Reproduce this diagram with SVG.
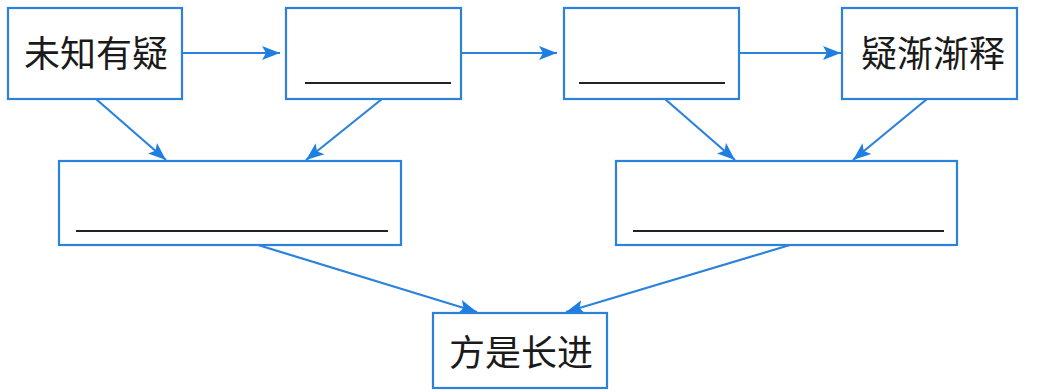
<svg xmlns="http://www.w3.org/2000/svg" width="1037" height="392" viewBox="0 0 1037 392">
<style>
.box{fill:#fff;stroke:#2b82dc;stroke-width:2.2}
.conn{stroke:#2b82dc;stroke-width:2.2;fill:none;marker-end:url(#ah)}
.blank{stroke:#222;stroke-width:2}
.lbl{font-family:"Noto Sans CJK SC","Noto Sans CJK TC",sans-serif;font-size:36px;fill:#1a1a1a;text-anchor:middle;dominant-baseline:central}
</style>
<defs>
<marker id="ah" markerUnits="userSpaceOnUse" markerWidth="20" markerHeight="16" refX="18" refY="8" orient="auto">
<path d="M0,1 L18,8 L0,15 L4,8 Z" fill="#1f7fe0"/>
</marker>
</defs>
<rect width="1037" height="392" fill="#fff"/>
<g id="connectors">
<line class="conn" x1="183" y1="53" x2="280" y2="53"/>
<line class="conn" x1="462" y1="53" x2="557" y2="53"/>
<line class="conn" x1="740" y1="53" x2="841" y2="53"/>
<line class="conn" x1="96" y1="99" x2="166" y2="160"/>
<line class="conn" x1="382" y1="99" x2="306" y2="160"/>
<line class="conn" x1="665" y1="99" x2="735" y2="160"/>
<line class="conn" x1="927" y1="99" x2="853" y2="160"/>
<line class="conn" x1="258" y1="245" x2="477" y2="312"/>
<line class="conn" x1="790" y1="245" x2="566" y2="312"/>
</g>
<g id="n1"><rect class="box" x="8" y="8" width="174" height="91"/><text class="lbl" x="96" y="51">未知有疑</text></g>
<g id="n2"><rect class="box" x="286" y="8" width="175" height="91"/><line class="blank" x1="305" y1="83" x2="451" y2="83"/></g>
<g id="n3"><rect class="box" x="564" y="8" width="175" height="91"/><line class="blank" x1="579" y1="83" x2="725" y2="83"/></g>
<g id="n4"><rect class="box" x="842" y="8" width="175" height="91"/><text class="lbl" x="933" y="51">疑渐渐释</text></g>
<g id="n5"><rect class="box" x="59" y="161" width="342" height="84"/><line class="blank" x1="76" y1="231" x2="388" y2="231"/></g>
<g id="n6"><rect class="box" x="616" y="161" width="341" height="84"/><line class="blank" x1="633" y1="231" x2="944" y2="231"/></g>
<g id="n7"><rect class="box" x="433" y="313" width="174" height="75"/><text class="lbl" x="521" y="350">方是长进</text></g>
</svg>
